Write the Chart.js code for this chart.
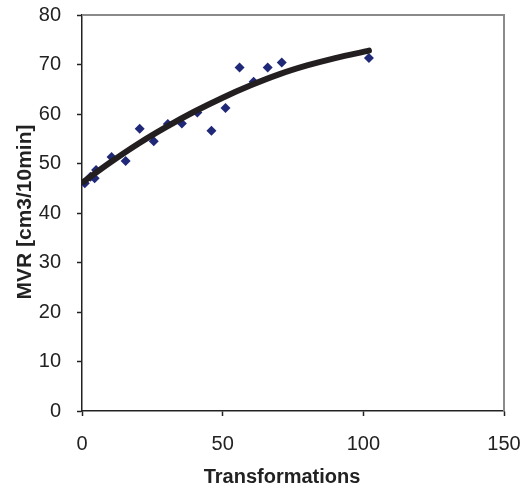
<!DOCTYPE html>
<html>
<head>
<meta charset="utf-8">
<script src="https://cdn.jsdelivr.net/npm/chart.js@4"></script>
<style>
html,body{margin:0;padding:0;background:#fff;}
#wrap{width:530px;height:488px;position:relative;}
</style>
</head>
<body>
<div id="wrap"><canvas id="c" width="530" height="488"></canvas></div>
<script>
// Measured points
const transformations = [1, 3, 4.5, 5, 10.5, 15.5, 20.5, 25.5, 30.5, 35.5, 41, 46, 51, 56, 61, 66, 71, 102];
const mvr = [46.0, 47.3, 47.0, 48.7, 51.3, 50.5, 57.0, 54.5, 58.0, 58.1, 60.3, 56.6, 61.2, 69.4, 66.5, 69.4, 70.4, 71.3];
// Trend curve
const trendX = [0.5, 10, 20, 30, 40, 50, 60, 70, 80, 90, 102];
const trendY = [46.3, 50.2, 54.0, 57.4, 60.5, 63.3, 65.8, 68.0, 69.8, 71.3, 72.8];
const xTicks = [0, 50, 100, 150];
const yTicks = [0, 10, 20, 30, 40, 50, 60, 70, 80];
const xTitle = 'Transformations';
const yTitle = 'MVR [cm3/10min]';

const FONT = '"Liberation Sans", Arial, sans-serif';

const framePlugin = {
  id: 'frame',
  afterDraw(chart) {
    const {ctx, chartArea: a} = chart;
    ctx.save();
    ctx.strokeStyle = '#8a8a8a';
    ctx.lineWidth = 2;
    ctx.beginPath();
    ctx.moveTo(a.left, a.top);
    ctx.lineTo(a.right, a.top);
    ctx.lineTo(a.right, a.bottom);
    ctx.stroke();
    ctx.fillStyle = '#222';
    ctx.font = 'bold 20px ' + FONT;
    ctx.textAlign = 'center';
    ctx.textBaseline = 'alphabetic';
    ctx.fillText(xTitle, (a.left + a.right) / 2 - 11, 483);
    ctx.font = 'bold 21px ' + FONT;
    ctx.translate(31, (a.top + a.bottom) / 2 - 1);
    ctx.rotate(-Math.PI / 2);
    ctx.fillText(yTitle, 0, 0);
    ctx.restore();
  }
};

function noPad(s) {
  s.paddingTop = 0; s.paddingBottom = 0; s.paddingLeft = 0; s.paddingRight = 0;
}

new Chart(document.getElementById('c'), {
  type: 'scatter',
  data: {
    datasets: [
      {
        type: 'line',
        data: trendX.map((x, i) => ({x, y: trendY[i]})),
        borderColor: '#231f20',
        borderWidth: 6,
        pointRadius: 0,
        tension: 0.4,
        cubicInterpolationMode: 'monotone',
        fill: false,
        borderCapStyle: 'round',
        order: 1
      },
      {
        data: transformations.map((x, i) => ({x, y: mvr[i]})),
        pointStyle: 'rectRot',
        pointRadius: 5,
        backgroundColor: '#202878',
        borderColor: '#202878',
        borderWidth: 0,
        order: 2
      }
    ]
  },
  options: {
    responsive: false,
    animation: false,
    devicePixelRatio: 1,
    layout: {padding: {top: 15, right: 26, left: 0, bottom: 0}},
    plugins: {legend: {display: false}, tooltip: {enabled: false}},
    scales: {
      x: {
        type: 'linear',
        min: 0, max: 150,
        afterBuildTicks(s) { s.ticks = xTicks.map(v => ({value: v})); },
        afterFit(s) { s.height = 77; noPad(s); },
        ticks: {color: '#222', font: {family: FONT, size: 20}, padding: 16, maxRotation: 0},
        grid: {drawOnChartArea: false, tickLength: 5, tickColor: '#222', tickWidth: 1.5},
        border: {color: '#222', width: 1.5}
      },
      y: {
        type: 'linear',
        min: 0, max: 80,
        afterBuildTicks(s) { s.ticks = yTicks.map(v => ({value: v})); },
        afterFit(s) { s.width = 82; noPad(s); },
        ticks: {color: '#222', font: {family: FONT, size: 20}, padding: 16},
        grid: {drawOnChartArea: false, tickLength: 5, tickColor: '#222', tickWidth: 1.5},
        border: {color: '#222', width: 1.5}
      }
    }
  },
  plugins: [framePlugin]
});
</script>
</body>
</html>
